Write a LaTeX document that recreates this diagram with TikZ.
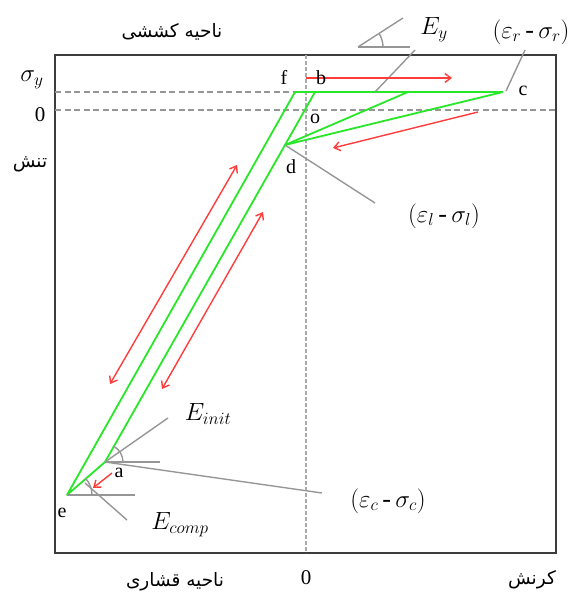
\documentclass[tikz,border=0pt]{standalone}
\usepackage{fontspec}
\setmainfont{Liberation Serif}
\newfontfamily\arabicfont[Script=Arabic]{DejaVu Sans}
\TeXXeTstate=1
\usetikzlibrary{arrows.meta}
\definecolor{grn}{RGB}{40,230,40}
\definecolor{rd}{RGB}{255,60,60}
\definecolor{gry}{RGB}{150,150,150}
\definecolor{frm}{RGB}{60,60,60}
\tikzset{
  curve/.style={grn, line width=1.8pt},
  lead/.style={gry, line width=1.4pt},
  dsh/.style={gry, line width=1.5pt, dash pattern=on 6pt off 3.5pt},
  vdsh/.style={gry!80, line width=1.6pt, dash pattern=on 4pt off 2pt},
  redarr/.style={rd, line width=1.4pt, -{Straight Barb[length=6pt,width=9pt]}},
  redarr2/.style={rd, line width=1.4pt, {Straight Barb[length=6pt,width=9pt]}-{Straight Barb[length=6pt,width=9pt]}},
  pt/.style={font=\fontsize{20}{22}\selectfont, inner sep=0pt},
  dig/.style={font=\fontsize{21}{23}\selectfont, inner sep=0pt},
  mlab/.style={font=\fontsize{26}{28}\selectfont, inner sep=0pt},
  fa/.style={font=\fontsize{18.5}{20}\selectfont\arabicfont, inner sep=0pt}
}
\newcommand{\mdash}{\,\mbox{-}\,}
\begin{document}
\begin{tikzpicture}[x=1pt,y=-1pt]
\useasboundingbox (0,0) rectangle (576,593);
% key points
\coordinate (f) at (295,92);
\coordinate (b) at (315,92);
\coordinate (m) at (408,92);
\coordinate (c) at (503,92);
\coordinate (d) at (285,145);
\coordinate (a) at (105,462);
\coordinate (e) at (67,495);
% frame and dashed axes
\draw[frm, line width=2.4pt] (55,55) rectangle (556,553);
\draw[dsh] (55,92) -- (f);
\draw[dsh] (55,110) -- (556,110);
\draw[vdsh] (306,55) -- (306,553);
% green curves
\draw[curve] (f) -- (c);
\draw[curve] (b) -- (d);
\draw[curve] (m) -- (d);
\draw[curve] (c) -- (d);
\draw[curve, line join=round] (d) -- (a) -- (e) -- (f);
% angle marks
\coordinate (ey) at (358,47);
\draw[lead] (ey) -- (410,47);
\draw[lead] (ey) -- (403,18);
\draw[lead] (ey) ++(25pt,0) arc[start angle=0, end angle=33, radius=25pt];
\draw[lead] (a) -- (160,462);
\draw[lead] (a) -- (168,418);
\draw[lead] (a) ++(18pt,0) arc[start angle=0, end angle=60, radius=18pt];
\draw[lead] (e) -- (135,495);
\draw[lead] (e) ++(25pt,0) arc[start angle=0, end angle=41, radius=25pt];
\draw[lead] (85,483) -- (127,520);
% leaders
\draw[lead] (415,50) -- (375,92);
\draw[lead] (525,50) -- (506,91);
\draw[lead] (d) -- (375,203);
\draw[lead] (a) -- (322,493);
% red arrows
\draw[redarr] (306,78) -- (452,78);
\draw[redarr] (478,112) -- (333,148);
\draw[redarr2] (110,384) -- (237,165);
\draw[redarr2] (162,389) -- (263,212);
\draw[redarr] (112,473) -- (93,488);
% point labels
\node[pt] (lf) at (284,77) {f};
\node[pt] (lb) at (321,78) {b};
\node[pt] (lc) at (523,91) {c};
\node[pt] (lo) at (315,119) {o};
\node[pt] (ld) at (291,167) {d};
\node[pt] (la) at (119,473) {a};
\node[pt] (le) at (62,513) {e};
% axis labels
\node[mlab] (sy) at (32,80) {$\sigma_y$};
\node[dig] (z1) at (40,115) {0};
\node[dig] (z2) at (306,578) {0};
\node[fa] (tanesh) at (30,164) {\beginR تنش\endR};
\node[fa] (top) at (172,32) {\beginR ناحیه کششی\endR};
\node[fa] (bot) at (175,582) {\beginR ناحیه قشاری\endR};
\node[fa] (strain) at (532,580) {\beginR کرنش\endR};
% math labels
\node[mlab] (Ey) at (434,30) {$E_y$};
\node[mlab] (er) at (531,32) {$(\varepsilon_r\mdash\sigma_r)$};
\node[mlab] (el) at (444,216) {$(\varepsilon_l\mdash\sigma_l)$};
\node[mlab] (ec) at (388,501) {$(\varepsilon_c\mdash\sigma_c)$};
\node[mlab] (Ei) at (208,414) {$E_{init}$};
\node[mlab] (Ec) at (180,525) {$E_{comp}$};
\end{tikzpicture}
\end{document}
